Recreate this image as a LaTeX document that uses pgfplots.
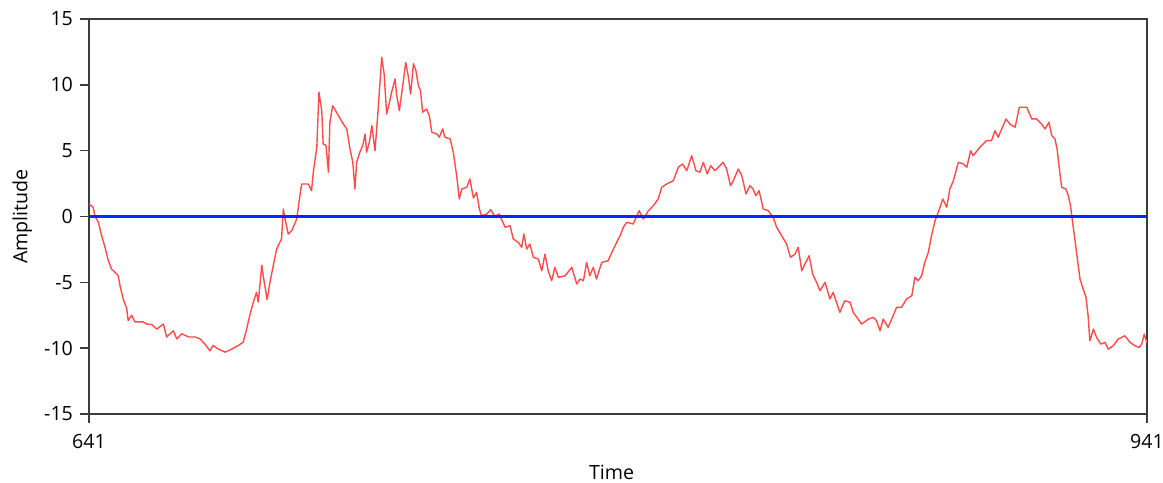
\documentclass[border=0pt]{standalone}
\usepackage{pgfplots}
\pgfplotsset{compat=1.18}
\usepackage{pgfplotstable}
\usepackage{fontspec}
\setmainfont{Open Sans}
\definecolor{sigred}{RGB}{255,75,75}
\definecolor{zeroblue}{RGB}{0,40,255}
\definecolor{framegray}{RGB}{60,60,60}
\pgfplotstableread{
t v
641.0 0.95
642.2 0.7
642.7 0.0
643.6 -0.4
644.6 -1.46
645.5 -2.3
646.5 -3.36
647.4 -4.0
648.9 -4.37
649.3 -4.5
649.8 -5.26
650.7 -6.27
651.7 -7.0
652.1 -7.9
653.1 -7.5
654.0 -8.0
656.3 -8.0
657.4 -8.17
658.8 -8.2
660.2 -8.55
662.1 -8.17
663.0 -9.15
664.9 -8.68
665.9 -9.3
667.3 -8.9
669.2 -9.15
671.1 -9.15
672.5 -9.3
673.9 -9.7
675.3 -10.2
676.2 -9.8
677.7 -10.07
679.6 -10.3
681.5 -10.07
683.3 -9.8
684.7 -9.56
685.7 -8.55
686.6 -7.5
687.6 -6.5
688.5 -5.76
689.0 -6.5
689.5 -5.1
690.0 -3.7
690.4 -4.5
691.5 -6.3
692.3 -5.0
693.2 -3.8
694.2 -2.47
695.6 -1.7
696.1 0.57
696.6 -0.19
697.5 -1.33
698.5 -1.08
699.9 -0.19
700.8 1.58
701.3 2.47
703.2 2.47
704.1 1.96
704.6 3.36
705.6 5.26
706.2 9.44
707.0 8.04
707.4 5.5
708.2 5.4
708.9 3.36
709.3 7.16
710.1 8.42
711.2 7.9
713.1 7.03
714.1 6.65
715.0 5.13
715.8 4.12
716.4 2.09
716.9 4.12
717.8 4.88
718.6 5.38
719.3 6.27
719.7 4.88
720.5 5.64
721.2 6.9
722.1 5.0
723.0 8.17
724.0 12.1
724.7 10.8
725.4 7.79
726.1 8.55
726.8 9.44
727.8 10.45
728.2 9.3
729.0 8.04
730.1 10.2
730.8 11.7
731.5 10.7
732.2 9.3
733.0 11.6
733.7 11.08
734.4 9.94
735.0 9.56
735.6 7.92
736.7 8.17
737.5 7.66
738.2 6.4
739.6 6.27
740.3 6.02
741.3 6.65
741.9 6.02
743.4 5.9
744.3 4.88
745.3 3.0
746.0 1.33
746.7 2.09
748.1 2.22
749.0 2.85
750.0 1.4
750.9 1.84
751.7 0.57
752.3 0.06
753.8 0.19
754.9 0.52
756.1 0.0
757.3 0.19
759.0 -0.82
760.4 -0.7
761.3 -1.71
762.7 -1.96
763.7 -2.34
764.3 -1.33
765.1 -2.47
766.0 -2.09
767.0 -3.1
768.4 -3.23
769.4 -4.12
770.3 -2.85
771.2 -4.12
772.2 -4.88
773.1 -3.86
774.1 -4.62
776.0 -4.5
777.9 -3.86
779.3 -5.13
780.2 -4.75
781.2 -4.88
782.1 -3.48
783.0 -4.5
784.0 -3.86
784.9 -4.75
786.4 -3.48
788.2 -3.36
789.7 -2.47
791.1 -1.71
791.6 -1.46
792.5 -0.82
793.5 -0.44
795.3 -0.57
797.0 0.44
798.2 -0.19
799.6 0.44
801.0 0.82
802.4 1.33
803.4 2.22
804.8 2.47
806.7 2.72
808.1 3.74
809.3 3.99
810.5 3.48
811.9 4.62
813.1 3.48
814.2 3.36
815.2 4.12
816.3 3.23
817.3 3.86
818.5 3.48
819.9 3.86
820.8 4.12
821.8 3.61
822.9 2.34
823.7 2.72
825.1 3.61
826.1 3.1
827.3 1.71
828.4 2.34
829.3 2.09
830.1 1.58
831.0 1.96
832.2 0.57
833.6 0.44
835.0 -0.06
836.0 -0.82
837.4 -1.46
838.8 -2.09
839.9 -3.1
841.2 -2.85
842.1 -2.34
843.1 -4.12
844.0 -3.61
845.2 -2.98
846.2 -4.37
847.3 -5.0
848.3 -5.64
849.7 -5.0
851.1 -6.27
852.0 -5.76
853.9 -7.28
855.3 -6.4
856.8 -6.52
857.7 -7.28
860.1 -8.17
862.0 -7.79
863.4 -7.66
864.3 -7.92
865.3 -8.68
866.2 -7.79
867.6 -8.42
870.0 -6.9
871.4 -6.9
872.8 -6.27
874.3 -6.02
875.2 -4.62
876.1 -4.88
877.1 -4.5
878.0 -3.48
879.0 -2.72
879.9 -1.46
880.9 -0.32
881.8 0.32
883.1 1.33
884.2 0.7
885.1 2.09
886.1 2.72
887.5 4.12
888.9 3.99
889.9 3.74
891.0 5.0
891.7 4.62
893.6 5.26
895.5 5.76
896.9 5.76
897.9 6.52
898.8 6.02
899.8 6.65
901.0 7.41
902.1 7.03
903.6 6.78
904.8 8.3
906.9 8.3
908.3 7.41
909.7 7.41
911.1 7.03
912.1 6.65
913.2 7.16
914.0 6.14
914.9 5.89
915.5 5.13
916.1 3.74
916.8 2.22
918.0 2.09
918.7 1.58
919.3 0.82
919.9 -0.44
920.6 -1.84
921.2 -3.1
922.0 -4.75
922.9 -5.51
923.7 -6.14
924.3 -7.54
924.8 -9.44
925.8 -8.55
926.7 -9.18
927.9 -9.69
929.1 -9.56
930.0 -10.07
931.4 -9.82
932.8 -9.31
934.7 -9.06
936.2 -9.56
937.6 -9.82
938.8 -9.94
939.5 -9.69
940.2 -8.93
941.0 -9.6
}\signal
\begin{document}
\begin{tikzpicture}
\begin{axis}[
  name=ax,
  scale only axis,
  width=529pt, height=197.5pt,
  xmin=641, xmax=941, ymin=-15, ymax=15,
  xtick={641,941}, ytick={-15,-10,-5,0,5,10,15},
  xtick pos=bottom, ytick pos=left,
  tick align=outside,
  major tick length=4.5pt,
  every tick/.style={framegray, line width=0.7pt},
  axis line style={framegray, line width=0.9pt},
  /pgf/number format/assume math mode=true,
  /pgf/number format/1000 sep={},
  ticklabel style={font=\fontsize{9.8}{11}\selectfont, text=black},
  xticklabel style={yshift=-2pt},
  xlabel={Time}, ylabel={Amplitude},
  label style={font=\fontsize{9.8}{12}\selectfont},
  xlabel style={at={(axis description cs:0.494,-0.147)}, anchor=center},
  ylabel style={at={(axis description cs:-0.063,0.5)}, anchor=center},
  clip=true,
]
\addplot[sigred, line width=0.7pt, line join=round] table[x=t, y=v] {\signal};
\addplot[zeroblue, line width=1.2pt] coordinates {(641,0) (941,0)};
\end{axis}
\pgfresetboundingbox
\path (ax.south west) ++(-44.5pt,-34pt) coordinate (bl);
\path (ax.north east) ++(8pt,9.5pt) coordinate (tr);
\path[use as bounding box] (bl) rectangle (tr);
\end{tikzpicture}
\end{document}
